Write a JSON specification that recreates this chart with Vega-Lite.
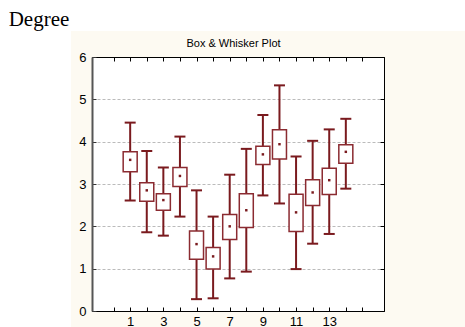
{
  "$schema": "https://vega.github.io/schema/vega-lite/v6.json",
  "background": "#fdfaf2",
  "padding": 0,
  "spacing": 0,
  "align": "each",
  "config": {
    "view": {"stroke": null},
    "font": "Liberation Sans",
    "concat": {"spacing": 0}
  },
  "vconcat": [
    {
      "spacing": 0,
      "hconcat": [
        {
          "width": 78,
          "height": 31,
          "view": {"fill": "white", "stroke": null},
          "data": {"values": [{"t": "Degree"}]},
          "mark": {"type": "text", "font": "Liberation Serif", "fontSize": 21, "baseline": "alphabetic", "align": "center", "dy": 10.5, "color": "black"},
          "encoding": {"text": {"field": "t"}}
        },
        {
          "width": 387,
          "height": 31,
          "view": {"fill": "white", "stroke": null},
          "data": {"values": [{"t": ""}]},
          "mark": {"type": "text"},
          "encoding": {"text": {"field": "t"}}
        }
      ]
    },
    {
      "spacing": 0,
      "align": "each",
      "hconcat": [
        {
          "width": 71,
          "height": 296,
          "view": {"fill": "white", "stroke": null},
          "data": {"values": [{"t": ""}]},
          "mark": {"type": "text"},
          "encoding": {"text": {"field": "t"}}
        },
        {
          "spacing": 0,
          "align": "each",
          "vconcat": [
            {
              "width": 283,
              "height": 19,
              "view": {"stroke": null},
              "data": {"values": [{"t": "Box & Whisker Plot"}]},
              "mark": {"type": "text", "font": "Liberation Sans", "fontSize": 11, "baseline": "middle", "align": "center", "dy": 3.5, "color": "black"},
              "encoding": {"text": {"field": "t"}}
            },
            {
              "width": 292,
              "height": 254,
              "view": {"fill": "white", "stroke": "black", "strokeWidth": 1},
              "data": {
                "values": [
                  {"x": 1, "lo": 2.61, "q1": 3.29, "mid": 3.57, "q3": 3.76, "hi": 4.45},
                  {"x": 2, "lo": 1.86, "q1": 2.59, "mid": 2.85, "q3": 3.03, "hi": 3.78},
                  {"x": 3, "lo": 1.78, "q1": 2.38, "mid": 2.62, "q3": 2.77, "hi": 3.39},
                  {"x": 4, "lo": 2.23, "q1": 2.94, "mid": 3.19, "q3": 3.39, "hi": 4.12},
                  {"x": 5, "lo": 0.28, "q1": 1.22, "mid": 1.58, "q3": 1.89, "hi": 2.85},
                  {"x": 6, "lo": 0.30, "q1": 0.99, "mid": 1.29, "q3": 1.50, "hi": 2.23},
                  {"x": 7, "lo": 0.77, "q1": 1.69, "mid": 2.00, "q3": 2.28, "hi": 3.22},
                  {"x": 8, "lo": 0.93, "q1": 1.97, "mid": 2.38, "q3": 2.77, "hi": 3.83},
                  {"x": 9, "lo": 2.73, "q1": 3.46, "mid": 3.70, "q3": 3.89, "hi": 4.63},
                  {"x": 10, "lo": 2.54, "q1": 3.59, "mid": 3.94, "q3": 4.28, "hi": 5.33},
                  {"x": 11, "lo": 0.99, "q1": 1.88, "mid": 2.33, "q3": 2.76, "hi": 3.65},
                  {"x": 12, "lo": 1.59, "q1": 2.49, "mid": 2.80, "q3": 3.10, "hi": 4.02},
                  {"x": 13, "lo": 1.82, "q1": 2.75, "mid": 3.09, "q3": 3.37, "hi": 4.29},
                  {"x": 14, "lo": 2.89, "q1": 3.49, "mid": 3.76, "q3": 3.93, "hi": 4.54}
                ]
              },
              "resolve": {"axis": {"x": "independent", "y": "independent"}},
              "layer": [
                {
                  "mark": {"type": "rule", "color": "#7a1a1e", "strokeWidth": 2},
                  "encoding": {
                    "x": {
                      "field": "x", "type": "quantitative",
                      "scale": {"domain": [-1, 16], "nice": false, "zero": false},
                      "axis": {
                        "orient": "bottom", "title": null, "grid": false,
                        "values": [0, 1, 2, 3, 4, 5, 6, 7, 8, 9, 10, 11, 12, 13, 14, 15],
                        "labelExpr": "datum.value % 2 == 1 && datum.value <= 13 ? datum.label : ''",
                        "tickSize": -4, "tickColor": "black", "domainColor": "black", "domainWidth": 1,
                        "labelFontSize": 13, "labelColor": "black", "labelPadding": 8, "labelFont": "Liberation Sans"
                      }
                    },
                    "y": {
                      "field": "lo", "type": "quantitative",
                      "scale": {"domain": [0, 6], "nice": false},
                      "axis": {
                        "orient": "left", "title": null,
                        "values": [0, 1, 2, 3, 4, 5, 6],
                        "grid": true, "gridDash": [3, 2], "gridColor": "#bbbbbb", "gridWidth": 1,
                        "tickSize": -4, "tickColor": "#333333", "domainColor": "#555555", "domainWidth": 2,
                        "labelFontSize": 13, "labelColor": "black", "labelPadding": 10, "labelFont": "Liberation Sans",
                        "minExtent": 20, "maxExtent": 20
                      }
                    },
                    "y2": {"field": "hi"}
                  }
                },
                {
                  "mark": {"type": "bar", "fill": "white", "stroke": "#8b2b31", "strokeWidth": 1.5, "size": 14},
                  "encoding": {
                    "x": {
                      "field": "x", "type": "quantitative",
                      "axis": {
                        "orient": "top", "title": null, "grid": false, "labels": false,
                        "values": [0, 1, 2, 3, 4, 5, 6, 7, 8, 9, 10, 11, 12, 13, 14, 15],
                        "tickSize": -4, "tickColor": "black", "domainColor": "black", "domainWidth": 1,
                        "minExtent": 0, "maxExtent": 0
                      }
                    },
                    "y": {
                      "field": "q1", "type": "quantitative",
                      "axis": {
                        "orient": "right", "title": null, "grid": false, "labels": false,
                        "values": [0, 1, 2, 3, 4, 5, 6],
                        "tickSize": -4, "tickColor": "black", "domainColor": "black", "domainWidth": 1,
                        "minExtent": 0, "maxExtent": 0
                      }
                    },
                    "y2": {"field": "q3"}
                  }
                },
                {
                  "mark": {"type": "tick", "orient": "horizontal", "color": "#7a1a1e", "size": 11, "thickness": 2, "opacity": 1},
                  "encoding": {
                    "x": {"field": "x", "type": "quantitative", "axis": null},
                    "y": {"field": "lo", "type": "quantitative", "axis": null}
                  }
                },
                {
                  "mark": {"type": "tick", "orient": "horizontal", "color": "#7a1a1e", "size": 11, "thickness": 2, "opacity": 1},
                  "encoding": {
                    "x": {"field": "x", "type": "quantitative", "axis": null},
                    "y": {"field": "hi", "type": "quantitative", "axis": null}
                  }
                },
                {
                  "mark": {"type": "square", "size": 6, "color": "#7a1a1e", "opacity": 1},
                  "encoding": {
                    "x": {"field": "x", "type": "quantitative", "axis": null},
                    "y": {"field": "mid", "type": "quantitative", "axis": null}
                  }
                }
              ]
            }
          ]
        }
      ]
    }
  ]
}
